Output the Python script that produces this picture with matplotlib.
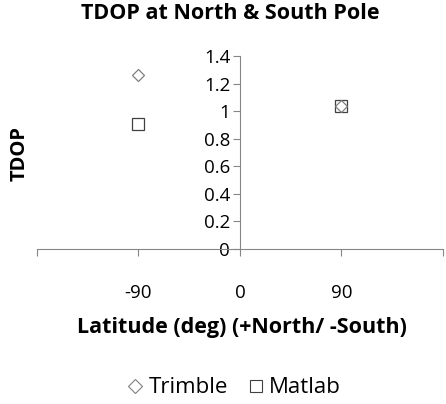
import matplotlib.pyplot as plt
from matplotlib.lines import Line2D

# latitude (deg) and TDOP
lat = [-90, 90]
trimble = [1.26, 1.04]
matlab = [0.91, 1.04]
xticks = [-180, -90, 0, 90, 180]
xlabels = ['', '-90', '0', '90', '']
yticks = [0, 0.2, 0.4, 0.6, 0.8, 1, 1.2, 1.4]
ylabels = ['0', '0.2', '0.4', '0.6', '0.8', '1', '1.2', '1.4']

plt.rcParams['font.family'] = ['Open Sans', 'DejaVu Sans']

fig = plt.figure(figsize=(4.46, 4.04), dpi=100)
ax = fig.add_axes([0.083, 0.384, 0.91, 0.477])

axis_color = '#868686'
ax.plot(lat, matlab, linestyle='none', marker='s', markersize=9.2,
        markerfacecolor='none', markeredgecolor='#404040', markeredgewidth=0.9,
        clip_on=False, label='Matlab')
ax.plot(lat, trimble, linestyle='none', marker='D', markersize=5.8,
        markerfacecolor='none', markeredgecolor='#7f7f7f', markeredgewidth=0.9,
        clip_on=False, label='Trimble')

ax.set_xlim(-180, 180)
ax.set_ylim(0, 1.4)
ax.set_xticks(xticks)
ax.set_xticklabels(xlabels)
ax.set_yticks(yticks)
ax.set_yticklabels(ylabels)

for s in ['top', 'right']:
    ax.spines[s].set_visible(False)
ax.spines['left'].set_position(('data', 0))
ax.spines['left'].set_color(axis_color)
ax.spines['bottom'].set_color(axis_color)
ax.tick_params(axis='both', colors=axis_color, length=5, labelcolor='black',
               labelsize=13.5)
ax.tick_params(axis='x', pad=20)
ax.tick_params(axis='y', pad=2)

fig.text(0.516, 0.966, 'TDOP at North & South Pole', ha='center', va='center',
         fontsize=15.5, fontweight='bold')
fig.text(0.543, 0.19, 'Latitude (deg) (+North/ -South)', ha='center', va='center',
         fontsize=15.5, fontweight='bold')
fig.text(0.043, 0.62, 'TDOP', ha='center', va='center', rotation=90,
         fontsize=14.5, fontweight='bold')

handles = [
    Line2D([], [], linestyle='none', marker='D', markersize=7, markerfacecolor='none',
           markeredgecolor='#7f7f7f', markeredgewidth=0.8),
    Line2D([], [], linestyle='none', marker='s', markersize=9, markerfacecolor='none',
           markeredgecolor='#404040', markeredgewidth=0.8),
]
fig.legend(handles, ['Trimble', 'Matlab'], loc='center', bbox_to_anchor=(0.525, 0.04),
           ncol=2, frameon=False, fontsize=16, handlelength=0.7, handletextpad=0.25,
           columnspacing=0.9)

fig.savefig('out.png', dpi=100)
